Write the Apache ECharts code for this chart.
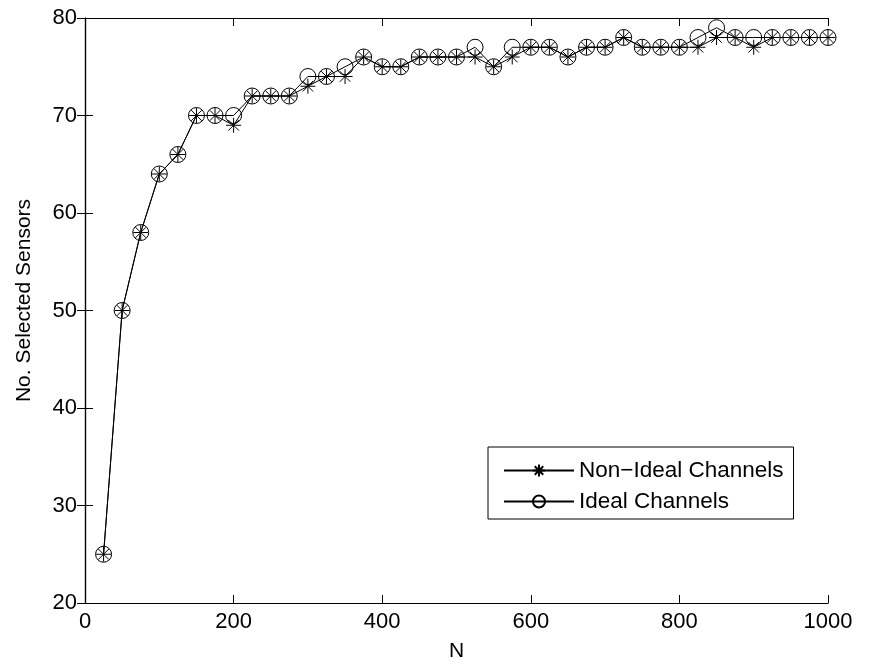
<!DOCTYPE html>
<html>
<head>
<meta charset="utf-8">
<script src="https://cdn.jsdelivr.net/npm/echarts@6/dist/echarts.min.js"></script>
<style>
  html, body { margin: 0; padding: 0; background: #fff; }
  #chart { width: 877px; height: 667px; }
</style>
</head>
<body>
<div id="chart"></div>
<script>
  // N values (sample sizes)
  const nValues = [25, 50, 75, 100, 125, 150, 175, 200, 225, 250, 275, 300, 325, 350, 375, 400,
    425, 450, 475, 500, 525, 550, 575, 600, 625, 650, 675, 700, 725, 750, 775, 800,
    825, 850, 875, 900, 925, 950, 975, 1000];
  const nonIdeal = [25, 50, 58, 64, 66, 70, 70, 69, 72, 72, 72, 73, 74, 74, 76, 75,
    75, 76, 76, 76, 76, 75, 76, 77, 77, 76, 77, 77, 78, 77, 77, 77,
    77, 78, 78, 77, 78, 78, 78, 78];
  const ideal = [25, 50, 58, 64, 66, 70, 70, 70, 72, 72, 72, 74, 74, 75, 76, 75,
    75, 76, 76, 76, 77, 75, 77, 77, 77, 76, 77, 77, 78, 77, 77, 77,
    78, 79, 78, 78, 78, 78, 78, 78];

  const FONT = 'Liberation Sans, Arial, Helvetica, sans-serif';
  // asterisk marker: + and x strokes
  const STAR = 'path://M0,-10L0,10M-10,0L10,0M-7.07,-7.07L7.07,7.07M-7.07,7.07L7.07,-7.07';

  const pairs = (ys) => nValues.map((x, i) => [x, ys[i]]);

  const chart = echarts.init(document.getElementById('chart'));

  const axisLine = { show: true, lineStyle: { color: '#000', width: 1.2 } };
  const axisTick = { show: true, inside: true, length: 8, lineStyle: { color: '#000', width: 1 } };
  const plain = (v) => String(v);

  chart.setOption({
    animation: false,
    backgroundColor: '#fff',
    textStyle: { fontFamily: FONT },
    grid: { left: 85, right: 49, top: 18, bottom: 64 },
    legend: {
      orient: 'vertical',
      left: 488,
      top: 447,
      padding: [12, 10, 6, 15],
      itemGap: 8,
      itemWidth: 70,
      itemHeight: 15,
      itemTextGap: 10,
      borderColor: '#000',
      borderWidth: 1,
      backgroundColor: '#fff',
      textStyle: { fontFamily: FONT, fontSize: 22.5, color: '#000' },
      data: ['Non\u2212Ideal Channels', 'Ideal Channels']
    },
    xAxis: [
      {
        type: 'value', min: 0, max: 1000, interval: 200,
        name: 'N', nameLocation: 'middle', nameGap: 38,
        nameTextStyle: { fontFamily: FONT, fontSize: 21, color: '#000' },
        axisLine, axisTick, splitLine: { show: false },
        axisLabel: { fontFamily: FONT, fontSize: 22, color: '#000', margin: 8, formatter: plain }
      },
      {
        type: 'value', min: 0, max: 1000, interval: 200, position: 'top',
        axisLine, axisTick, splitLine: { show: false }, axisLabel: { show: false }
      }
    ],
    yAxis: [
      {
        type: 'value', min: 20, max: 80, interval: 10,
        name: 'No. Selected Sensors', nameLocation: 'middle', nameGap: 50,
        nameTextStyle: { fontFamily: FONT, fontSize: 21, color: '#000', padding: [0, 0, 0, 20] },
        axisLine, axisTick, splitLine: { show: false },
        axisLabel: { fontFamily: FONT, fontSize: 22, color: '#000', margin: 8, formatter: plain }
      },
      {
        type: 'value', min: 20, max: 80, interval: 10, position: 'right',
        axisLine, axisTick, splitLine: { show: false }, axisLabel: { show: false }
      }
    ],
    series: [
      {
        name: 'Non\u2212Ideal Channels',
        type: 'line',
        data: pairs(nonIdeal),
        symbol: STAR,
        symbolSize: 15,
        showAllSymbol: true,
        lineStyle: { color: '#000', width: 1 },
        itemStyle: { color: 'transparent', borderColor: '#000', borderWidth: 1 }
      },
      {
        name: 'Ideal Channels',
        type: 'line',
        data: pairs(ideal),
        symbol: 'circle',
        symbolSize: 16,
        showAllSymbol: true,
        lineStyle: { color: '#000', width: 1 },
        itemStyle: { color: 'transparent', borderColor: '#000', borderWidth: 1 }
      }
    ]
  });
</script>
</body>
</html>
